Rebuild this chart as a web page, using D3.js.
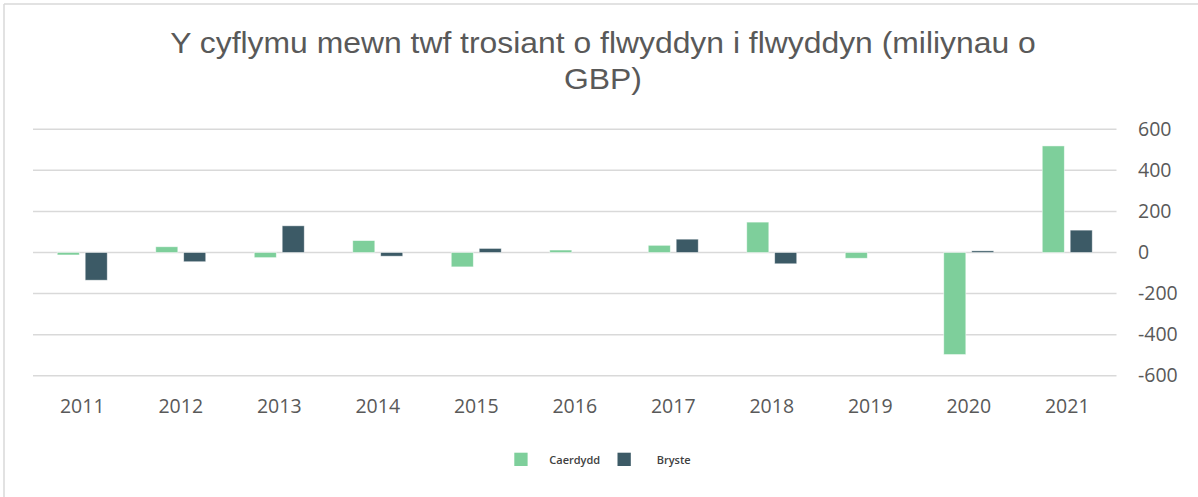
<!DOCTYPE html>
<html>
<head>
<meta charset="utf-8">
<script src="https://cdn.jsdelivr.net/npm/d3@7/dist/d3.min.js"></script>
<style>
  html, body { margin: 0; padding: 0; background: #ffffff; }
  svg { display: block; }
</style>
</head>
<body>
<div id="chart"></div>
<script>
// Year-on-year turnover growth, millions of GBP
const years = ["2011","2012","2013","2014","2015","2016","2017","2018","2019","2020","2021"];
const seriesNames = ["Caerdydd", "Bryste"];
const caerdydd = [-12, 28, -25, 58, -70, 12, 35, 148, -28, -497, 519];
const bryste   = [-135, -45, 130, -18, 20, 0, 65, -55, 0, 8, 109];
const yTicks = [-600, -400, -200, 0, 200, 400, 600];
const titleLines = ["Y cyflymu mewn twf trosiant o flwyddyn i flwyddyn (miliynau o", "GBP)"];

const colors = { "Caerdydd": "#7ecf9b", "Bryste": "#3c5a66" };

const W = 1198, H = 497;
const svg = d3.select("#chart").append("svg")
  .attr("width", W).attr("height", H);

// frame edges
svg.append("line").attr("x1", 4).attr("x2", W).attr("y1", 4).attr("y2", 4)
  .attr("stroke", "#d9d9d9").attr("stroke-width", 1.5);
svg.append("line").attr("x1", 4).attr("x2", 4).attr("y1", 4).attr("y2", H)
  .attr("stroke", "#d9d9d9").attr("stroke-width", 1.5);

// title (slightly widened wrapper)
svg.append("g")
  .attr("transform", "translate(603,0) scale(1.063,1)")
  .append("text")
  .attr("x", 0).attr("y", 53.5)
  .attr("text-anchor", "middle")
  .attr("font-family", "Liberation Sans, Arial, sans-serif")
  .attr("font-size", 30)
  .attr("fill", "#595959")
  .selectAll("tspan").data(titleLines).join("tspan")
  .attr("x", 0)
  .attr("dy", (d, i) => i === 0 ? 0 : 36)
  .text(d => d);

const plot = { left: 33, right: 1116.5, top: 129.3, bottom: 375.7 };

const x0 = d3.scaleBand().domain(years).range([plot.left, plot.right]).padding(0);
const x1 = d3.scaleBand().domain(seriesNames).range([0, 50]).paddingInner(0.21).paddingOuter(0);
const y = d3.scaleLinear().domain([-600, 600]).range([plot.bottom, plot.top]);

// gridlines
svg.append("g").attr("class", "grid")
  .selectAll("line").data(yTicks).join("line")
  .attr("x1", plot.left).attr("x2", plot.right)
  .attr("y1", d => y(d)).attr("y2", d => y(d))
  .attr("stroke", "#d9d9d9").attr("stroke-width", 1.5);

// bars
const rows = years.map((yr, i) => ({ year: yr, values: [
  { name: "Caerdydd", value: caerdydd[i] },
  { name: "Bryste", value: bryste[i] }
]}));

const groups = svg.append("g").selectAll("g").data(rows).join("g")
  .attr("transform", d => `translate(${x0(d.year) + x0.bandwidth() / 2 - 25},0)`);

groups.selectAll("rect").data(d => d.values.filter(v => v.value !== 0)).join("rect")
  .attr("x", d => x1(d.name))
  .attr("width", x1.bandwidth())
  .attr("y", d => y(Math.max(0, d.value)))
  .attr("height", d => Math.abs(y(d.value) - y(0)))
  .attr("fill", d => colors[d.name])
  .attr("stroke", "#ffffff").attr("stroke-opacity", 0.6).attr("stroke-width", 0.8);

// right value axis
const yAxis = d3.axisRight(y).tickValues(yTicks).tickFormat(d => String(d)).tickSize(0).tickPadding(0);
const ya = svg.append("g").attr("transform", `translate(1138,0)`).call(yAxis);
ya.select(".domain").remove();
ya.selectAll("text")
  .attr("font-family", "Open Sans, sans-serif")
  .attr("font-size", 19.5)
  .attr("fill", "#595959")
  .attr("text-anchor", "start");

// category axis
const xAxis = d3.axisBottom(x0).tickSize(0).tickPadding(0);
const xa = svg.append("g").attr("transform", `translate(0,${plot.bottom})`).call(xAxis);
xa.select(".domain").remove();
xa.selectAll("text")
  .attr("font-family", "Open Sans, sans-serif")
  .attr("font-size", 19.5)
  .attr("fill", "#595959")
  .attr("dy", null)
  .attr("y", 37.5);

// legend
const legendItems = [
  { name: "Caerdydd", sx: 514.3, tx: 549.3 },
  { name: "Bryste", sx: 617.5, tx: 656.7 }
];
const lg = svg.append("g");
lg.selectAll("rect").data(legendItems).join("rect")
  .attr("x", d => d.sx).attr("y", 452.7)
  .attr("width", 13.3).attr("height", 13.3)
  .attr("fill", d => colors[d.name]);
lg.selectAll("text").data(legendItems).join("text")
  .attr("x", d => d.tx).attr("y", 463.5)
  .attr("font-family", "Open Sans, sans-serif")
  .attr("font-size", 11)
  .attr("font-weight", 600)
  .attr("fill", "#404040")
  .text(d => d.name);
</script>
</body>
</html>
